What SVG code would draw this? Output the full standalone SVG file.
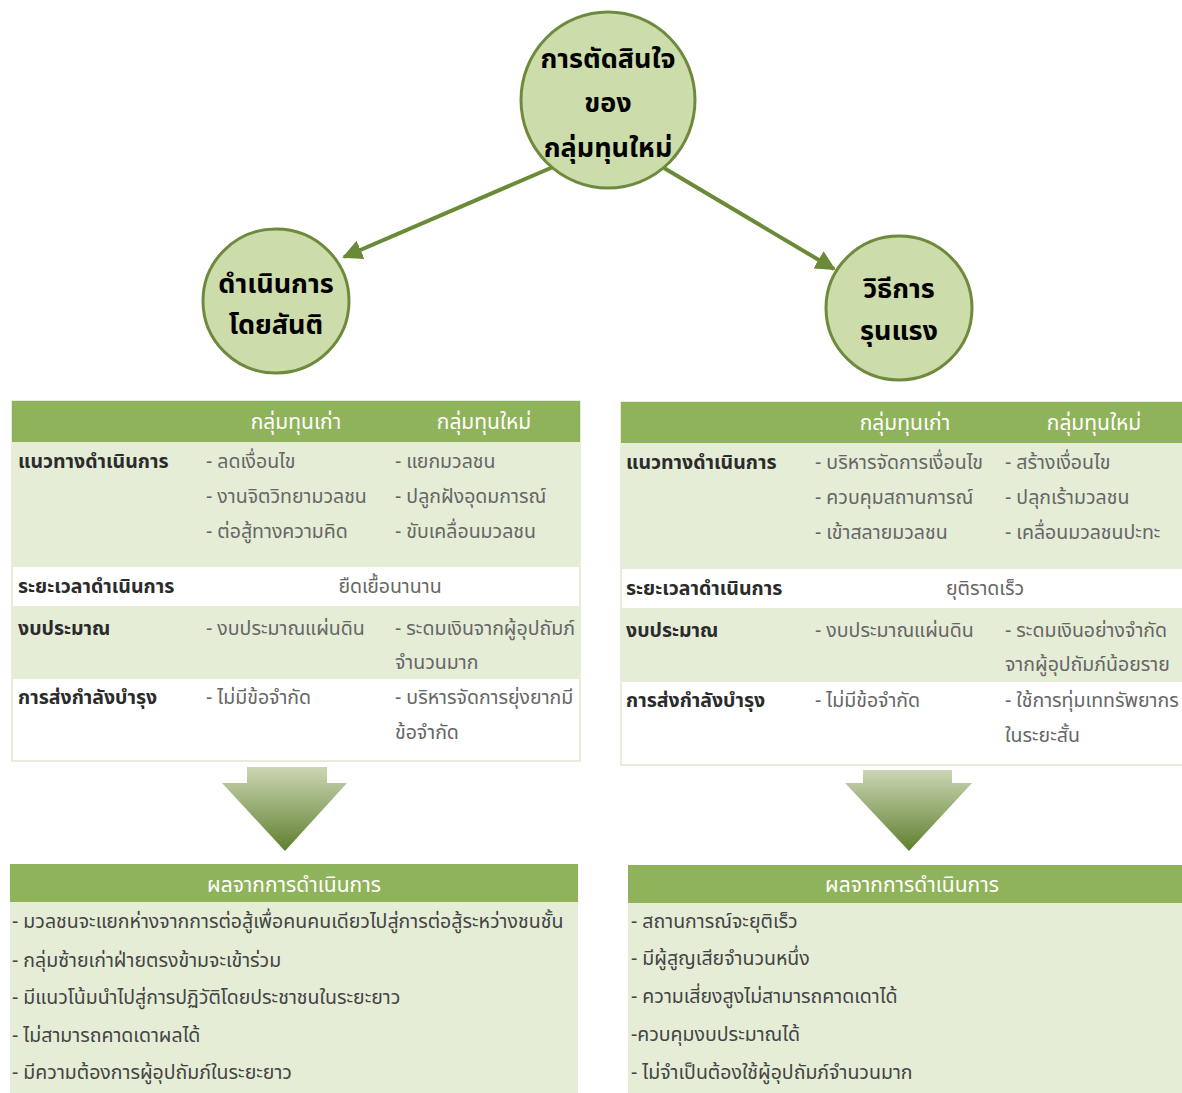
<svg xmlns="http://www.w3.org/2000/svg" width="1182" height="1093" viewBox="0 0 1182 1093">
<style>
text{font-family:"Noto Sans Thai","Tahoma","Liberation Sans","DejaVu Sans",sans-serif}
.node{fill:#cddcab;stroke:#6e8b3d;stroke-width:3}
.ct{font-size:27px;font-weight:bold;fill:#000;text-anchor:middle}
.hdr{fill:#8fb35a}
.lt{fill:#e5edd7}
.ht{font-size:21px;fill:#fff;text-anchor:middle}
.lab{font-size:19.5px;font-weight:bold;fill:#2b2b2b}
.it{font-size:19.5px;fill:#666}
.res{font-size:19.5px;fill:#444}
.conn{stroke:#6b8a38;stroke-width:4;fill:none}
</style>
<defs>
<marker id="ah" viewBox="0 0 10 10" refX="9" refY="5" markerWidth="5" markerHeight="5" orient="auto" markerUnits="strokeWidth">
<path d="M0,0 L10,5 L0,10 z" fill="#6b8a38"/>
</marker>
<linearGradient id="g" x1="0" y1="0" x2="0" y2="1">
<stop offset="0" stop-color="#cbd6b4"/>
<stop offset="1" stop-color="#5f7f2e"/>
</linearGradient>
</defs>
<rect width="1182" height="1093" fill="#fff"/>

<g id="connectors">
<line class="conn" x1="553" y1="167" x2="344" y2="257" marker-end="url(#ah)"/>
<line class="conn" x1="664" y1="168" x2="834" y2="269" marker-end="url(#ah)"/>
<path d="M247,767 H327 V783 H347 L285,851 L222,783 H247 Z" fill="url(#g)"/>
<path d="M863,770 H952 V783 H972 L909,851 L845,783 H863 Z" fill="url(#g)"/>
</g>

<g id="n-top">
<ellipse class="node" cx="608" cy="100" rx="87" ry="88"/>
<text class="ct" x="608" y="68">การตัดสินใจ</text>
<text class="ct" x="608" y="112">ของ</text>
<text class="ct" x="608" y="157">กลุ่มทุนใหม่</text>
</g>
<g id="n-left">
<ellipse class="node" cx="276" cy="301" rx="73" ry="72"/>
<text class="ct" x="276" y="293">ดำเนินการ</text>
<text class="ct" x="276" y="334">โดยสันติ</text>
</g>
<g id="n-right">
<ellipse class="node" cx="899" cy="308" rx="73" ry="72"/>
<text class="ct" x="899" y="298">วิธีการ</text>
<text class="ct" x="899" y="340">รุนแรง</text>
</g>

<g id="table-left">
<rect x="12" y="401" width="568" height="360" fill="#fff" stroke="#dfe6d2" stroke-width="1.5"/>
<rect class="hdr" x="12" y="401" width="568" height="41"/>
<rect class="lt" x="12" y="442" width="568" height="125"/>
<rect class="lt" x="12" y="606" width="568" height="73"/>
<text class="ht" x="296" y="429">กลุ่มทุนเก่า</text>
<text class="ht" x="484" y="429">กลุ่มทุนใหม่</text>
<text class="lab" x="18" y="468">แนวทางดำเนินการ</text>
<text class="it" x="206" y="468">- ลดเงื่อนไข</text>
<text class="it" x="206" y="503">- งานจิตวิทยามวลชน</text>
<text class="it" x="206" y="538">- ต่อสู้ทางความคิด</text>
<text class="it" x="395" y="468">- แยกมวลชน</text>
<text class="it" x="395" y="503">- ปลูกฝังอุดมการณ์</text>
<text class="it" x="395" y="538">- ขับเคลื่อนมวลชน</text>
<text class="lab" x="18" y="593">ระยะเวลาดำเนินการ</text>
<text class="it" x="390" y="593" text-anchor="middle">ยืดเยื้อนานาน</text>
<text class="lab" x="18" y="635">งบประมาณ</text>
<text class="it" x="206" y="635">- งบประมาณแผ่นดิน</text>
<text class="it" x="395" y="635">- ระดมเงินจากผู้อุปถัมภ์</text>
<text class="it" x="395" y="669">จำนวนมาก</text>
<text class="lab" x="18" y="704">การส่งกำลังบำรุง</text>
<text class="it" x="206" y="704">- ไม่มีข้อจำกัด</text>
<text class="it" x="395" y="704">- บริหารจัดการยุ่งยากมี</text>
<text class="it" x="395" y="739">ข้อจำกัด</text>
</g>

<g id="table-right">
<rect x="621" y="402" width="565" height="363" fill="#fff" stroke="#dfe6d2" stroke-width="1.5"/>
<rect class="hdr" x="621" y="402" width="561" height="41"/>
<rect class="lt" x="621" y="443" width="561" height="126"/>
<rect class="lt" x="621" y="608" width="561" height="74"/>
<text class="ht" x="905" y="430">กลุ่มทุนเก่า</text>
<text class="ht" x="1094" y="430">กลุ่มทุนใหม่</text>
<text class="lab" x="626" y="469">แนวทางดำเนินการ</text>
<text class="it" x="815" y="469">- บริหารจัดการเงื่อนไข</text>
<text class="it" x="815" y="504">- ควบคุมสถานการณ์</text>
<text class="it" x="815" y="539">- เข้าสลายมวลชน</text>
<text class="it" x="1005" y="469">- สร้างเงื่อนไข</text>
<text class="it" x="1005" y="504">- ปลุกเร้ามวลชน</text>
<text class="it" x="1005" y="539">- เคลื่อนมวลชนปะทะ</text>
<text class="lab" x="626" y="595">ระยะเวลาดำเนินการ</text>
<text class="it" x="985" y="595" text-anchor="middle">ยุติราดเร็ว</text>
<text class="lab" x="626" y="637">งบประมาณ</text>
<text class="it" x="815" y="637">- งบประมาณแผ่นดิน</text>
<text class="it" x="1005" y="637">- ระดมเงินอย่างจำกัด</text>
<text class="it" x="1005" y="671">จากผู้อุปถัมภ์น้อยราย</text>
<text class="lab" x="626" y="707">การส่งกำลังบำรุง</text>
<text class="it" x="815" y="707">- ไม่มีข้อจำกัด</text>
<text class="it" x="1005" y="707">- ใช้การทุ่มเททรัพยากร</text>
<text class="it" x="1005" y="742">ในระยะสั้น</text>
</g>

<g id="result-left">
<rect class="lt" x="10" y="902" width="568" height="191"/>
<rect class="hdr" x="10" y="864" width="568" height="38"/>
<text class="ht" x="294" y="892">ผลจากการดำเนินการ</text>
<text class="res" x="12" y="928">- มวลชนจะแยกห่างจากการต่อสู้เพื่อคนคนเดียวไปสู่การต่อสู้ระหว่างชนชั้น</text>
<text class="res" x="12" y="967">- กลุ่มซ้ายเก่าฝ่ายตรงข้ามจะเข้าร่วม</text>
<text class="res" x="12" y="1004">- มีแนวโน้มนำไปสู่การปฏิวัติโดยประชาชนในระยะยาว</text>
<text class="res" x="12" y="1042">- ไม่สามารถคาดเดาผลได้</text>
<text class="res" x="12" y="1079">- มีความต้องการผู้อุปถัมภ์ในระยะยาว</text>
</g>

<g id="result-right">
<rect class="lt" x="628" y="903" width="554" height="190"/>
<rect class="hdr" x="628" y="865" width="554" height="38"/>
<text class="ht" x="912" y="892">ผลจากการดำเนินการ</text>
<text class="res" x="631" y="928">- สถานการณ์จะยุติเร็ว</text>
<text class="res" x="631" y="965">- มีผู้สูญเสียจำนวนหนึ่ง</text>
<text class="res" x="631" y="1003">- ความเสี่ยงสูงไม่สามารถคาดเดาได้</text>
<text class="res" x="631" y="1041">-ควบคุมงบประมาณได้</text>
<text class="res" x="631" y="1079">- ไม่จำเป็นต้องใช้ผู้อุปถัมภ์จำนวนมาก</text>
</g>
</svg>
